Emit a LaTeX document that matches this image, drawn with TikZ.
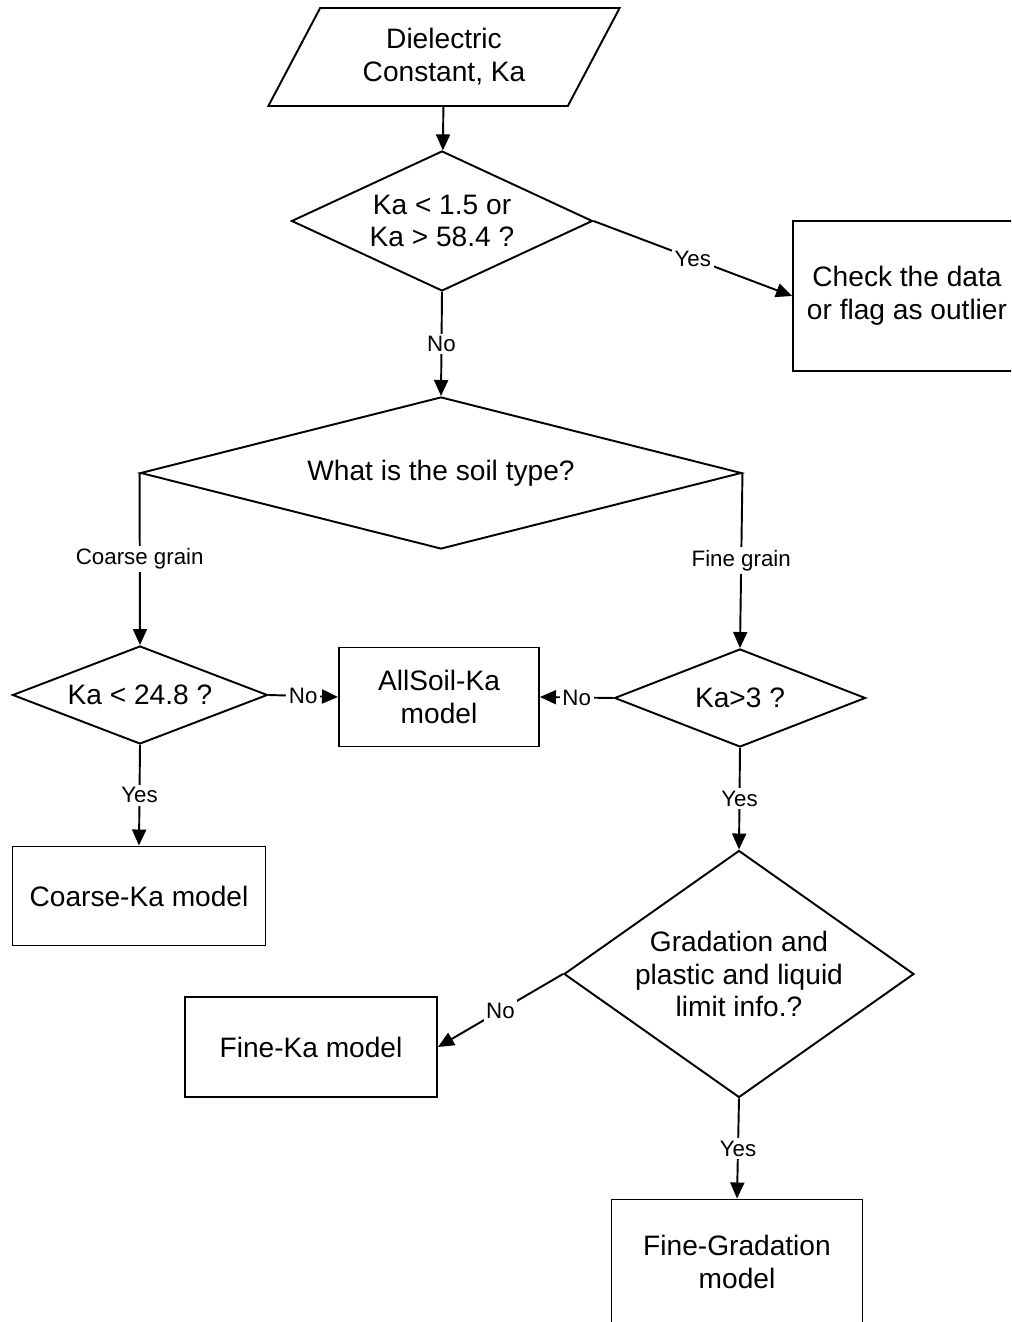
\documentclass[tikz,border=0pt]{standalone}
\usepackage{fontspec}
\setmainfont{Liberation Sans}
\usepackage{tikz}
\usetikzlibrary{shapes.geometric, arrows.meta}
\tikzset{
  block/.style={rectangle, draw=black, align=center,
    font=\fontsize{16}{18.7}\selectfont, line width=1.1pt, inner sep=2pt},
  decision/.style={diamond, draw=black, align=center,
    font=\fontsize{16}{18.7}\selectfont, line width=1.1pt, inner sep=0pt},
  io/.style={trapezium, trapezium left angle=62, trapezium right angle=118,
    trapezium stretches=true, draw=black, align=center,
    font=\fontsize{16}{18.7}\selectfont, line width=1.1pt},
  arrow/.style={-{Triangle[length=0.32cm, width=0.28cm]}, line width=1.1pt},
  lbl/.style={fill=white, inner sep=1.5pt, font=\fontsize{12.7}{15}\selectfont}
}
\begin{document}
\begin{tikzpicture}
  \clip (0,0) rectangle (20.22,26.44);
  \node[io, minimum width=7.04cm, minimum height=1.96cm] (input) at (8.88,25.30) {Dielectric\\Constant, Ka};
  \node[decision, aspect=2.15, minimum width=6.02cm, minimum height=2.8cm] (range) at (8.84,22.02) {Ka < 1.5 or\\Ka > 58.4 ?};
  \node[block, minimum width=4.56cm, minimum height=3cm] (check) at (18.14,20.52) {Check the data\\or flag as outlier};
  \node[decision, aspect=3.95, minimum width=12.02cm, minimum height=3.04cm] (soil) at (8.82,16.98) {What is the soil type?};
  \node[decision, aspect=2.6, minimum width=5.1cm, minimum height=1.96cm] (coarsetest) at (2.80,12.54) {Ka < 24.8 ?};
  \node[block, minimum width=4cm, minimum height=1.98cm] (allsoil) at (8.78,12.50) {AllSoil-Ka\\model};
  \node[decision, aspect=2.56, minimum width=5.02cm, minimum height=1.96cm] (finetest) at (14.80,12.48) {Ka>3 ?};
  \node[block, minimum width=5.06cm, minimum height=1.98cm] (coarse) at (2.78,8.52) {Coarse-Ka model};
  \node[decision, aspect=1.42, minimum width=7cm, minimum height=4.94cm] (grad) at (14.78,6.96) {Gradation and\\plastic and liquid\\limit info.?};
  \node[block, minimum width=5.04cm, minimum height=2cm] (fine) at (6.22,5.50) {Fine-Ka model};
  \node[block, minimum width=5.02cm, minimum height=2.5cm] (finegrad) at (14.74,1.20) {Fine-Gradation\\model};

  \draw[arrow] (input) -- (range);
  \draw[arrow] (range.east) -- node[lbl] {Yes} (check.west);
  \draw[arrow] (range.south) -- node[lbl] {No} (soil.north);
  \draw[arrow] (soil.west) -- node[lbl] {Coarse grain} (coarsetest.north);
  \draw[arrow] (soil.east) -- node[lbl] {Fine grain} (finetest.north);
  \draw[arrow] (coarsetest.east) -- node[lbl] {No} (allsoil.west);
  \draw[arrow] (finetest.west) -- node[lbl] {No} (allsoil.east);
  \draw[arrow] (coarsetest.south) -- node[lbl] {Yes} (coarse.north);
  \draw[arrow] (finetest.south) -- node[lbl] {Yes} (grad.north);
  \draw[arrow] (grad.west) -- node[lbl] {No} (fine.east);
  \draw[arrow] (grad.south) -- node[lbl] {Yes} (finegrad.north);
\end{tikzpicture}
\end{document}
